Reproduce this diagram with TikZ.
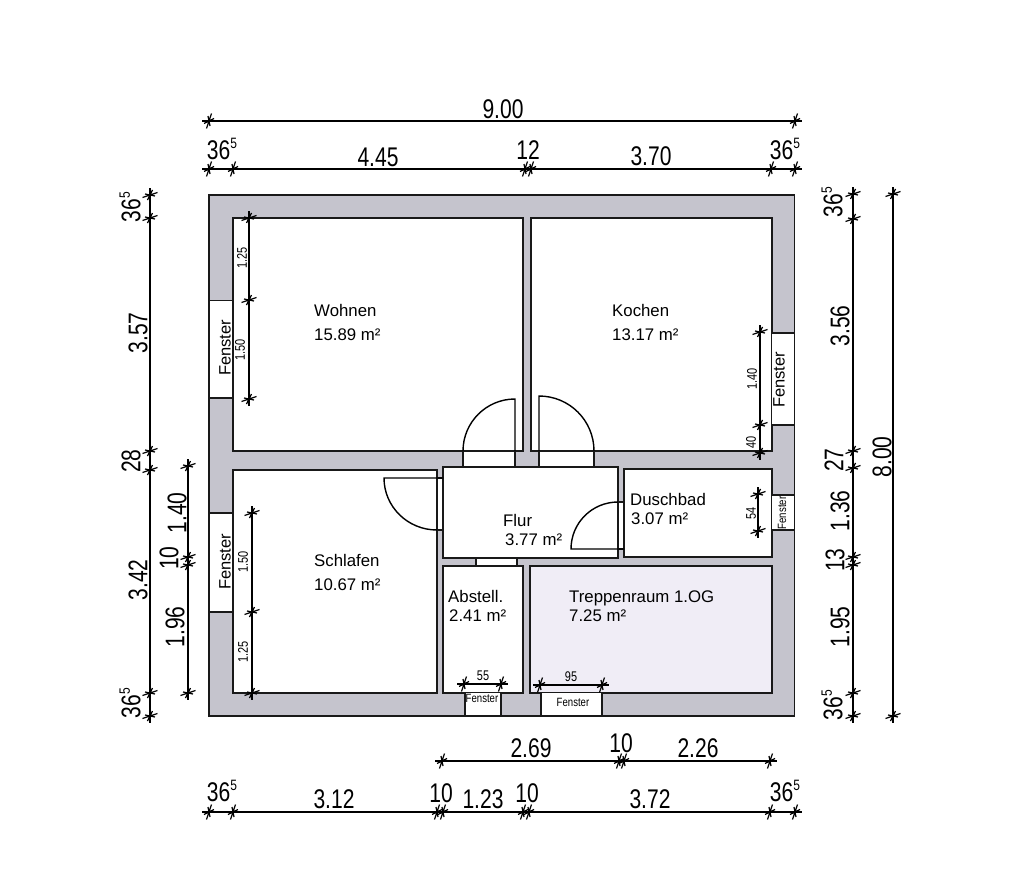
\documentclass[tikz,border=0pt]{standalone}
\usepackage{fontspec}
\setmainfont{Liberation Sans}
\definecolor{wallc}{HTML}{C5C4CD}
\definecolor{stairc}{HTML}{F0EDF6}
\newcommand{\fsz}[2]{\fontsize{#1}{#1}\selectfont #2}
\newcommand{\bigtxt}[1]{\scalebox{.78}[1]{\fontsize{27}{27}\selectfont #1}}
\newcommand{\smalltxt}[1]{\scalebox{.78}[1]{\fontsize{14}{14}\selectfont #1}}
\newcommand{\fivetxt}{\bigtxt{36}\smash{\raisebox{10.5pt}{\scalebox{.8}[1]{\fontsize{15}{15}\selectfont 5}}}}
\newcommand{\htick}[2]{\draw[ticks] (#1-2.5,#2+7.5) -- (#1+2.5,#2-7.5) (#1-1,#2-5) -- (#1+1,#2+5) (#1-5,#2+2.5) -- (#1+5,#2-2.5);}
\newcommand{\vtick}[2]{\draw[ticks] (#1-7.5,#2+2.5) -- (#1+7.5,#2-2.5) (#1-5,#2-1) -- (#1+5,#2+1) (#1-2.5,#2+5) -- (#1+2.5,#2-5);}
\newcommand{\hdim}[4]{\draw[dimline] (#1-7,#3) -- (#2+7,#3); \foreach \t in {#4} {\htick{\t}{#3}}}
\newcommand{\vdim}[4]{\draw[dimline] (#3,#1-7) -- (#3,#2+7); \foreach \t in {#4} {\vtick{#3}{\t}}}
\tikzset{
  x=1pt,y=-1pt,
  ticks/.style={line width=1.2pt,black},
  dimline/.style={line width=1.7pt,black},
  wall/.style={line width=1.7pt,draw=black!90,fill=wallc},
  room/.style={line width=2pt,draw=black!90,fill=white},
  winbox/.style={line width=1.7pt,draw=black!90,fill=white},
  dtext/.style={inner sep=0pt,text=black},
  vtext/.style={inner sep=0pt,rotate=90,text=black},
  roomlabel/.style={inner sep=0pt,anchor=base west,text=black,font=\fontsize{16.8}{16.8}\selectfont},
  doorline/.style={line width=1.4pt,black},
}
\begin{document}
\begin{tikzpicture}
\useasboundingbox[fill=white] (0,0) rectangle (1024,880);
% walls
\draw[wall] (209,195) rectangle (794.5,716);
% rooms
\draw[room] (233,218) rectangle (523,451);
\draw[room] (531,218) rectangle (771.5,451);
\draw[room] (233,470) rectangle (437,692.5);
\draw[room] (443,467) rectangle (618,558);
\draw[room] (624,469) rectangle (771.5,557);
\draw[room] (443,566) rectangle (523,692.5);
\draw[room,fill=stairc] (530,566) rectangle (771.5,692.5);
% windows
\draw[winbox] (209,300.5) rectangle (233,398);
\draw[winbox] (771.5,333) rectangle (794.5,425);
\draw[winbox] (209,513) rectangle (233,612);
\draw[winbox] (771.5,495) rectangle (794.5,530);
\draw[winbox] (465,692.5) rectangle (501,716);
\draw[winbox] (541,692.5) rectangle (602,716);
% wall openings
\draw[winbox] (463,451) rectangle (515,467);
\draw[winbox] (539,451) rectangle (594,467);
\draw[winbox] (437,478) rectangle (443,530);
\draw[winbox] (618,502) rectangle (624,549);
\draw[winbox] (476,558) rectangle (517,566);
% doors
\draw[doorline] (515,451) -- (515,399) .. controls (486.3,399) and (463,422.3) .. (463,451);
\draw[doorline] (539,451) -- (539,396) .. controls (569.4,396) and (594,420.6) .. (594,451);
\draw[doorline] (443,478) -- (384,478) .. controls (384,506.7) and (407.7,530) .. (437,530);
\draw[doorline] (624,549) -- (571,549) .. controls (571,523) and (592,502) .. (618,502);
% dimension lines
\hdim{209}{795}{121}{209,795}
\hdim{209}{795}{169}{209,233,525,531,771,795}
\hdim{442}{770}{761}{442,619,624,770}
\hdim{209}{795}{812}{209,233,437,443,523,529,770,795}
\vdim{195}{716}{150}{195,218,451,470,693,716}
\vdim{466}{693}{188}{466,557,565,693}
\vdim{194}{716}{853}{194,219,451,468,557,565,693,716}
\vdim{194}{716}{893}{194,716}
% inner dimensions
\vdim{218}{399}{249}{218,300,399}
\vdim{513}{693}{252}{513,612,693}
\vdim{332}{453}{760}{332,425,453}
\vdim{494}{531}{758}{494,531}
\hdim{464}{501}{684}{464,501}
\hdim{540}{602}{685}{540,602}
% dimension texts
\node[dtext] (t900) at (503,109) {\bigtxt{9.00}};
\node[dtext] (ta) at (222,150) {\fivetxt};
\node[dtext] (tb) at (378,157) {\bigtxt{4.45}};
\node[dtext] (tc) at (528,150) {\bigtxt{12}};
\node[dtext] (td) at (651,156) {\bigtxt{3.70}};
\node[dtext] (te) at (785,150) {\fivetxt};
\node[vtext] (la) at (131,207) {\fivetxt};
\node[vtext] (lb) at (138,333) {\bigtxt{3.57}};
\node[vtext] (lc) at (131,461) {\bigtxt{28}};
\node[vtext] (ld) at (138,580) {\bigtxt{3.42}};
\node[vtext] (le) at (131,703) {\fivetxt};
\node[vtext] (lf) at (177,513) {\bigtxt{1.40}};
\node[vtext] (lg) at (169,558) {\bigtxt{10}};
\node[vtext] (lh) at (175,627) {\bigtxt{1.96}};
\node[vtext] (ra) at (833,202) {\fivetxt};
\node[vtext] (rb) at (840,326) {\bigtxt{3.56}};
\node[vtext] (rc) at (834,460) {\bigtxt{27}};
\node[vtext] (rd) at (840,511) {\bigtxt{1.36}};
\node[vtext] (re) at (835,560) {\bigtxt{13}};
\node[vtext] (rf) at (840,627) {\bigtxt{1.95}};
\node[vtext] (rg) at (833,705) {\fivetxt};
\node[vtext] (rh) at (882,457) {\bigtxt{8.00}};
\node[dtext] (ba) at (531,748) {\bigtxt{2.69}};
\node[dtext] (bb) at (621,743) {\bigtxt{10}};
\node[dtext] (bc) at (698,748) {\bigtxt{2.26}};
\node[dtext] (bd) at (222,792) {\fivetxt};
\node[dtext] (be) at (334,799) {\bigtxt{3.12}};
\node[dtext] (bf) at (441,793) {\bigtxt{10}};
\node[dtext] (bg) at (483,799) {\bigtxt{1.23}};
\node[dtext] (bh) at (527,793) {\bigtxt{10}};
\node[dtext] (bi) at (650,799) {\bigtxt{3.72}};
\node[dtext] (bj) at (785,792) {\fivetxt};
% small dimension texts
\node[vtext] (sa) at (242,258) {\smalltxt{1.25}};
\node[vtext] (sb) at (240,350) {\smalltxt{1.50}};
\node[vtext] (sc) at (243,562) {\smalltxt{1.50}};
\node[vtext] (sd) at (243,652) {\smalltxt{1.25}};
\node[vtext] (se) at (752,379) {\smalltxt{1.40}};
\node[vtext] (sf) at (751,442) {\smalltxt{40}};
\node[vtext] (sg) at (751,513) {\smalltxt{54}};
\node[dtext] (sh) at (483,676) {\smalltxt{55}};
\node[dtext] (si) at (571,677) {\smalltxt{95}};
% window labels
\node[vtext] (fa) at (225,348) {\fsz{16.5}{Fenster}};
\node[vtext] (fb) at (779,380) {\fsz{16.5}{Fenster}};
\node[vtext] (fc) at (225,562) {\fsz{16.5}{Fenster}};
\node[vtext] (fd) at (782,513) {\scalebox{.8}[1]{\fsz{12}{Fenster}}};
\node[dtext] (fe) at (482,698) {\scalebox{.8}[1]{\fsz{12}{Fenster}}};
\node[dtext] (ff) at (573,702) {\scalebox{.8}[1]{\fsz{12}{Fenster}}};
% room labels
\node[roomlabel] (r1) at (314,316) {Wohnen};
\node[roomlabel] (r1b) at (314,340) {15.89 m²};
\node[roomlabel] (r2) at (612,316) {Kochen};
\node[roomlabel] (r2b) at (612,340) {13.17 m²};
\node[roomlabel] (r3) at (314,566) {Schlafen};
\node[roomlabel] (r3b) at (314,590) {10.67 m²};
\node[roomlabel] (r4) at (503,526) {Flur};
\node[roomlabel] (r4b) at (505,545) {3.77 m²};
\node[roomlabel] (r5) at (630,505) {Duschbad};
\node[roomlabel] (r5b) at (631,524) {3.07 m²};
\node[roomlabel] (r6) at (448,602) {Abstell.};
\node[roomlabel] (r6b) at (449,621) {2.41 m²};
\node[roomlabel] (r7) at (569,602) {Treppenraum 1.OG};
\node[roomlabel] (r7b) at (569,621) {7.25 m²};
\end{tikzpicture}
\end{document}
